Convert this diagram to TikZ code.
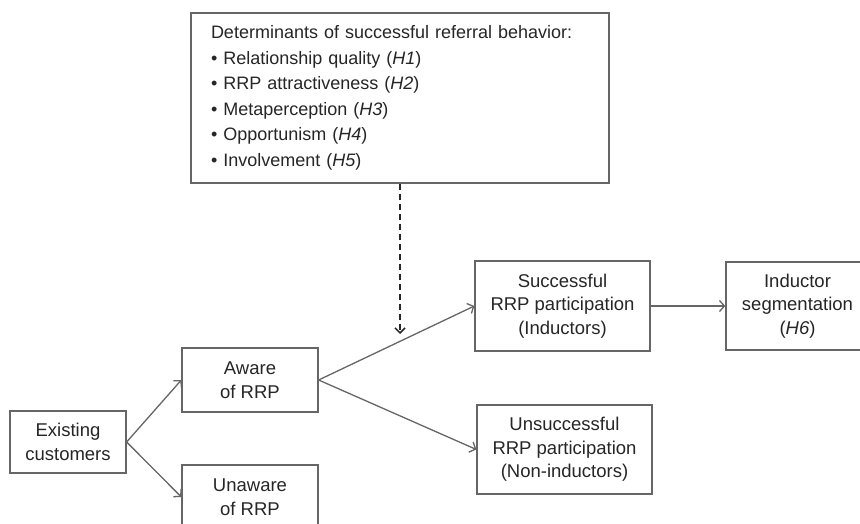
\documentclass[tikz,border=0pt]{standalone}
\usepackage{fontspec}
\setmainfont{Liberation Sans}
\usetikzlibrary{arrows.meta}
\begin{document}
\begin{tikzpicture}[x=1pt,y=-1pt,
  box/.style={draw=black!60, line width=1.3pt, fill=white, align=center, inner sep=0pt,
    font=\fontsize{18.5}{23.5}\selectfont, text=black!85},
  conn/.style={draw=black!60, line width=1.3pt, -{Straight Barb[length=5pt,width=11pt,line width=1.3pt]}},
  dconn/.style={draw=black!85, line width=1.8pt, dash pattern=on 6pt off 4pt, -{Straight Barb[length=5pt,width=10pt,line width=1.5pt]}}]
\useasboundingbox (0,0) rectangle (860,524);
\fill[white] (0,0) rectangle (860,524);
\clip (0,0) rectangle (860,524);
\node[box, minimum width=418pt, minimum height=170pt, text width=378pt, align=left,
  font=\fontsize{18}{25.5}\selectfont] (det) at (400,98)
  {Determinants of successful referral behavior:\\
   \textbullet\ Relationship quality (\textit{H1})\\
   \textbullet\ RRP attractiveness (\textit{H2})\\
   \textbullet\ Metaperception (\textit{H3})\\
   \textbullet\ Opportunism (\textit{H4})\\
   \textbullet\ Involvement (\textit{H5})};
\node[box, minimum width=116pt, minimum height=62pt] (ex) at (68,442) {Existing\\customers};
\node[box, minimum width=136pt, minimum height=64pt] (aw) at (250,380) {Aware\\of RRP};
\node[box, minimum width=136pt, minimum height=64pt] (un) at (250,497) {Unaware\\of RRP};
\node[box, minimum width=175pt, minimum height=90pt] (su) at (562.5,306) {Successful\\RRP participation\\(Inductors)};
\node[box, minimum width=175pt, minimum height=89pt] (us) at (564.5,449.5) {Unsuccessful\\RRP participation\\(Non-inductors)};
\node[box, minimum width=143pt, minimum height=88pt] (ind) at (797.5,306) {Inductor\\segmentation\\(\textit{H6})};
\coordinate (dend) at (400,334);
\draw[conn] (ex.east) -- (aw.west);
\draw[conn] (ex.east) -- (un.west);
\draw[conn] (aw.east) -- (su.west);
\draw[conn] (aw.east) -- (us.west);
\draw[conn] (su.east) -- (ind.west);
\draw[dconn] (det.south) -- (dend);
\end{tikzpicture}
\end{document}
